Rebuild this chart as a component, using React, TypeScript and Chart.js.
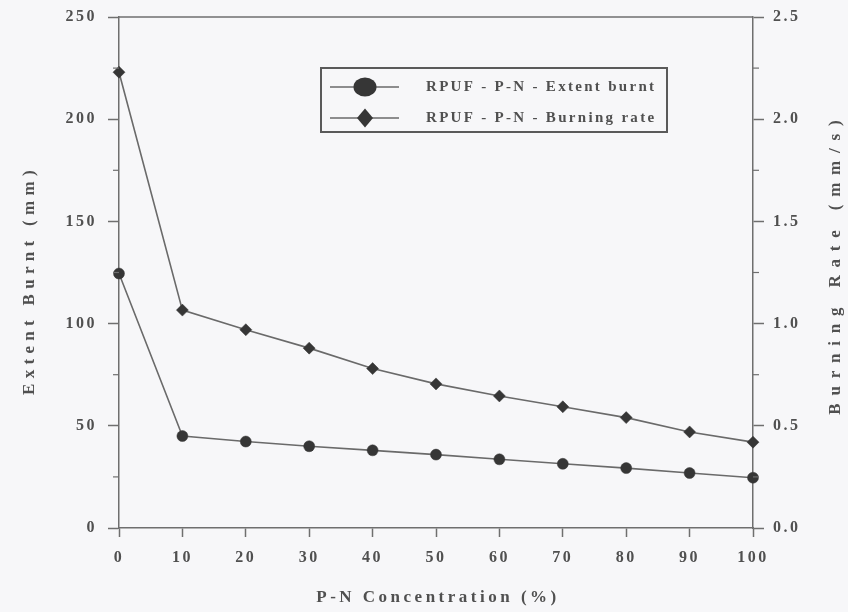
import React, { useEffect, useRef } from "react";
import { Chart, registerables } from "chart.js";

Chart.register(...registerables);

// ---- data ----
const concentration = [0, 10, 20, 30, 40, 50, 60, 70, 80, 90, 100];
const extentBurnt = [124.5, 45, 42.3, 40, 38, 35.9, 33.6, 31.4, 29.3, 26.9, 24.6];
const burningRate = [2.23, 1.066, 0.97, 0.88, 0.78, 0.705, 0.646, 0.593, 0.54, 0.47, 0.42];
const seriesLabels = ["RPUF - P-N - Extent burnt", "RPUF - P-N - Burning rate"];
const xTickLabels = ["0", "10", "20", "30", "40", "50", "60", "70", "80", "90", "100"];
const leftTickLabels = ["0", "50", "100", "150", "200", "250"];
const rightTickLabels = ["0.0", "0.5", "1.0", "1.5", "2.0", "2.5"];
const xTitle = "P-N Concentration (%)";
const yLeftTitle = "Extent Burnt (mm)";
const yRightTitle = "Burning Rate (mm/s)";

// ---- style ----
const BG = "#f7f7f9";
const AXIS = "#6f6f6f";
const TEXT = "#505050";
const LINE = "#6a6a6a";
const MARK = "#363636";
const FONT = "'Liberation Serif', 'Times New Roman', serif";

function withMinors(labels: string[]) {
  const major = labels.map((l) => parseFloat(l));
  const out: number[] = [];
  for (let i = 0; i < major.length; i++) {
    out.push(major[i]);
    if (i < major.length - 1) out.push((major[i] + major[i + 1]) / 2);
  }
  return out;
}
function labelFor(labels: string[], v: number) {
  const l = labels.find((s) => Math.abs(parseFloat(s) - v) < 1e-9);
  return l === undefined ? "" : l;
}
function isMajor(labels: string[], v: number) {
  return labels.some((s) => Math.abs(parseFloat(s) - v) < 1e-9);
}

const decorPlugin = {
  id: "decor",
  beforeDraw(chart: any) {
    const { ctx, width, height } = chart;
    ctx.save();
    ctx.fillStyle = BG;
    ctx.fillRect(0, 0, width, height);
    ctx.restore();
    ctx.letterSpacing = "2.5px";
  },
  afterDraw(chart: any) {
    const { ctx, chartArea: a, scales } = chart;
    ctx.save();
    ctx.letterSpacing = "0px";
    ctx.strokeStyle = AXIS;
    ctx.lineWidth = 1.5;
    ctx.beginPath();
    ctx.moveTo(a.left, a.top);
    ctx.lineTo(a.right, a.top);
    ctx.stroke();

    // minor ticks
    ctx.lineWidth = 1.2;
    const yl = scales.yL;
    const yr = scales.yR;
    yl.ticks.forEach((t: any) => {
      if (!isMajor(leftTickLabels, t.value)) {
        const p = yl.getPixelForValue(t.value);
        ctx.beginPath();
        ctx.moveTo(a.left - 6, p);
        ctx.lineTo(a.left, p);
        ctx.stroke();
      }
    });
    yr.ticks.forEach((t: any) => {
      if (!isMajor(rightTickLabels, t.value)) {
        const p = yr.getPixelForValue(t.value);
        ctx.beginPath();
        ctx.moveTo(a.right, p);
        ctx.lineTo(a.right + 6, p);
        ctx.stroke();
      }
    });

    // axis titles
    ctx.fillStyle = TEXT;
    ctx.textAlign = "center";
    ctx.textBaseline = "middle";
    ctx.font = `bold 17px ${FONT}`;
    ctx.letterSpacing = "3.5px";
    ctx.fillText(xTitle, (a.left + a.right) / 2 + 2, 598);

    const cy = (a.top + a.bottom) / 2;
    ctx.letterSpacing = "5.3px";
    ctx.save();
    ctx.translate(30, cy + 10);
    ctx.rotate(-Math.PI / 2);
    ctx.fillText(yLeftTitle, 2.5, 0);
    ctx.restore();
    ctx.letterSpacing = "7.8px";
    ctx.save();
    ctx.translate(836, cy - 5);
    ctx.rotate(-Math.PI / 2);
    ctx.fillText(yRightTitle, 3.9, 0);
    ctx.restore();

    // legend
    const bx = 321, by = 68, bw = 346, bh = 64;
    ctx.strokeStyle = "#5a5a5a";
    ctx.lineWidth = 2;
    ctx.strokeRect(bx, by, bw, bh);
    const rows = [87, 118];
    chart.data.datasets.forEach((ds: any, i: number) => {
      const y = rows[i];
      ctx.strokeStyle = ds.borderColor;
      ctx.lineWidth = 1.6;
      ctx.beginPath();
      ctx.moveTo(330, y);
      ctx.lineTo(399, y);
      ctx.stroke();
      ctx.fillStyle = ds.pointBackgroundColor;
      ctx.beginPath();
      if (ds.pointStyle === "circle") {
        ctx.ellipse(365, y, 11.5, 9.5, 0, 0, Math.PI * 2);
      } else {
        ctx.moveTo(365, y - 9.5);
        ctx.lineTo(373, y);
        ctx.lineTo(365, y + 9.5);
        ctx.lineTo(357, y);
        ctx.closePath();
      }
      ctx.fill();
      ctx.fillStyle = TEXT;
      ctx.textAlign = "left";
      ctx.textBaseline = "middle";
      ctx.font = `bold 15px ${FONT}`;
      ctx.letterSpacing = "2.3px";
      ctx.fillText(ds.label, 426, y);
    });
    ctx.restore();
  },
};

export default function App() {
  const ref = useRef<HTMLCanvasElement | null>(null);
  useEffect(() => {
    if (!ref.current) return;
    const tickFont = { family: FONT, size: 16, weight: "bold" as const };
    const chart = new Chart(ref.current, {
      type: "line",
      data: {
        datasets: [
          {
            label: seriesLabels[0],
            data: concentration.map((x, i) => ({ x, y: extentBurnt[i] })),
            yAxisID: "yL",
            borderColor: LINE,
            borderWidth: 1.6,
            pointStyle: "circle",
            pointRadius: 5.5,
            pointBackgroundColor: MARK,
            pointBorderColor: MARK,
            pointBorderWidth: 0.5,
            tension: 0,
            clip: false as any,
          },
          {
            label: seriesLabels[1],
            data: concentration.map((x, i) => ({ x, y: burningRate[i] })),
            yAxisID: "yR",
            borderColor: LINE,
            borderWidth: 1.6,
            pointStyle: "rectRot",
            pointRadius: 6,
            pointBackgroundColor: MARK,
            pointBorderColor: MARK,
            pointBorderWidth: 0.5,
            tension: 0,
            clip: false as any,
          },
        ],
      },
      options: {
        animation: false,
        responsive: false,
        events: [],
        layout: { padding: { top: 17, left: 0, right: 0, bottom: 0 } },
        plugins: { legend: { display: false }, tooltip: { enabled: false } },
        scales: {
          x: {
            type: "linear",
            position: "bottom",
            min: 0,
            max: 100,
            afterBuildTicks: (s: any) => {
              s.ticks = xTickLabels.map((l) => ({ value: parseFloat(l) }));
            },
            afterFit: (s: any) => {
              s.height = 84;
              s.paddingLeft = 0;
              s.paddingRight = 0;
            },
            ticks: {
              autoSkip: false,
              maxRotation: 0,
              padding: 11,
              color: TEXT,
              font: tickFont,
              callback: (v: any) => labelFor(xTickLabels, Number(v)),
            },
            grid: { drawOnChartArea: false, drawTicks: true, tickLength: 9, tickColor: AXIS, tickWidth: 1.5 },
            border: { display: true, color: AXIS, width: 1.5 },
          },
          yL: {
            type: "linear",
            position: "left",
            min: 0,
            max: 250,
            afterBuildTicks: (s: any) => {
              s.ticks = withMinors(leftTickLabels).map((v) => ({ value: v }));
            },
            afterFit: (s: any) => {
              s.width = 119;
              s.paddingTop = 0;
              s.paddingBottom = 0;
            },
            ticks: {
              autoSkip: false,
              padding: 11,
              color: TEXT,
              font: tickFont,
              callback: (v: any) => labelFor(leftTickLabels, Number(v)),
            },
            grid: {
              drawOnChartArea: false,
              drawTicks: true,
              tickLength: 11,
              tickWidth: 1.5,
              tickColor: (c: any) => (isMajor(leftTickLabels, c.tick.value) ? AXIS : "rgba(0,0,0,0)"),
            },
            border: { display: true, color: AXIS, width: 1.5 },
          },
          yR: {
            type: "linear",
            position: "right",
            min: 0,
            max: 2.5,
            afterBuildTicks: (s: any) => {
              s.ticks = withMinors(rightTickLabels).map((v) => ({ value: v }));
            },
            afterFit: (s: any) => {
              s.width = 95;
              s.paddingTop = 0;
              s.paddingBottom = 0;
            },
            ticks: {
              autoSkip: false,
              padding: 9,
              color: TEXT,
              font: tickFont,
              callback: (v: any) => labelFor(rightTickLabels, Number(v)),
            },
            grid: {
              drawOnChartArea: false,
              drawTicks: true,
              tickLength: 11,
              tickWidth: 1.5,
              tickColor: (c: any) => (isMajor(rightTickLabels, c.tick.value) ? AXIS : "rgba(0,0,0,0)"),
            },
            border: { display: true, color: AXIS, width: 1.5 },
          },
        },
      },
      plugins: [decorPlugin],
    });
    return () => chart.destroy();
  }, []);

  return (
    <div style={{ position: "fixed", left: 0, top: 0, width: 848, height: 612, background: BG }}>
      <canvas ref={ref} width={848} height={612} style={{ display: "block", width: 848, height: 612 }} />
    </div>
  );
}
